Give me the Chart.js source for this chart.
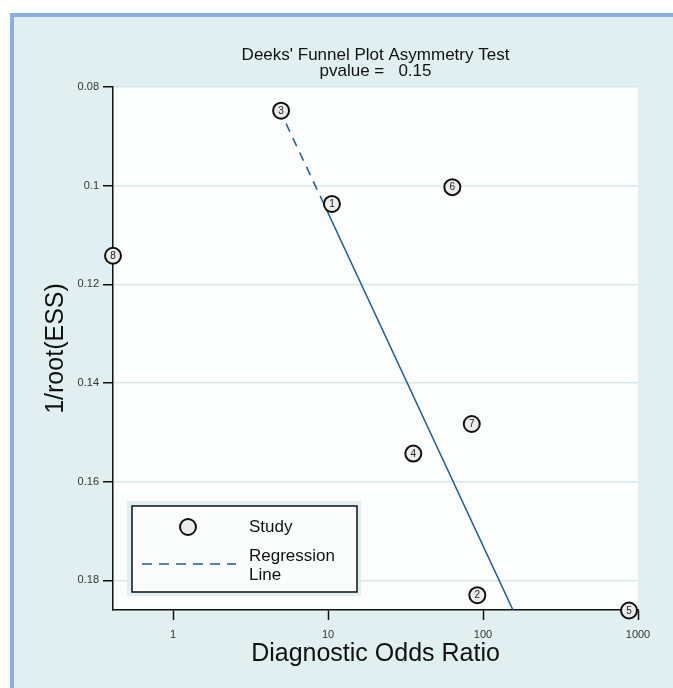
<!DOCTYPE html>
<html>
<head>
<meta charset="utf-8">
<script src="https://cdn.jsdelivr.net/npm/chart.js@4.4.1/dist/chart.umd.min.js"></script>
<style>
  body { margin: 0; background: #fff; }
  canvas { display: block; }
</style>
</head>
<body>
<canvas id="funnel" width="673" height="688"></canvas>
<script>
// study points
const studyLabels = ["1", "2", "3", "4", "5", "6", "7", "8"];
const studyDOR = [10.6, 91.9, 4.98, 35.5, 875, 63.4, 84.6, 0.41];
const studyESS = [0.1037, 0.1830, 0.0848, 0.1543, 0.1861, 0.1003, 0.1483, 0.1142];
// regression line (dashed on the first piece)
const lineDOR = [5.36, 9.15, 156];
const lineESS = [0.0874, 0.1029, 0.186];
// axes
const xTicks = [1, 10, 100, 1000];
const xTickLabels = ["1", "10", "100", "1000"];
const yTicks = [0.08, 0.10, 0.12, 0.14, 0.16, 0.18];
const yTickLabels = ["0.08", "0.1", "0.12", "0.14", "0.16", "0.18"];

const FONT = "'Liberation Sans', Arial, sans-serif";
const LINE_COLOR = '#1f5a8c';
Chart.defaults.font.family = FONT;

// page frame + white plot area
const backdrop = {
    id: 'backdrop',
    beforeDraw(chart) {
        const { ctx, chartArea: a } = chart;
        ctx.save();
        ctx.fillStyle = '#ffffff';
        ctx.fillRect(0, 0, chart.width, chart.height);
        ctx.fillStyle = '#88afe1';
        ctx.fillRect(10, 13, chart.width, chart.height);
        ctx.fillStyle = '#e1eff0';
        ctx.fillRect(14, 17, chart.width, chart.height);
        ctx.fillStyle = '#fcfdfd';
        ctx.fillRect(a.left, a.top, a.right - a.left, a.bottom - a.top);
        ctx.restore();
    }
};

// numbers inside the circles
const pointNumbers = {
    id: 'pointNumbers',
    afterDatasetsDraw(chart) {
        const { ctx } = chart;
        const meta = chart.getDatasetMeta(0);
        ctx.save();
        ctx.font = '10px ' + FONT;
        ctx.fillStyle = '#222';
        ctx.textAlign = 'center';
        ctx.textBaseline = 'middle';
        meta.data.forEach((el, i) => {
            ctx.fillText(studyLabels[i], el.x, el.y + 0.5);
        });
        ctx.restore();
    }
};

// stata style legend box
const boxLegend = {
    id: 'boxLegend',
    afterDraw(chart) {
        const { ctx } = chart;
        ctx.save();
        ctx.fillStyle = '#e1eff0';
        ctx.fillRect(127, 501, 234, 95);
        ctx.fillStyle = '#fbfcfc';
        ctx.fillRect(132, 506, 225, 86);
        ctx.strokeStyle = '#111';
        ctx.lineWidth = 1.5;
        ctx.strokeRect(132, 506, 225, 86);

        ctx.beginPath();
        ctx.arc(188, 527, 8, 0, Math.PI * 2);
        ctx.fillStyle = '#ececec';
        ctx.fill();
        ctx.lineWidth = 2;
        ctx.stroke();

        ctx.beginPath();
        ctx.setLineDash([10, 7]);
        ctx.strokeStyle = LINE_COLOR;
        ctx.lineWidth = 1.5;
        ctx.moveTo(142, 564);
        ctx.lineTo(236, 564);
        ctx.stroke();
        ctx.setLineDash([]);

        ctx.fillStyle = '#111';
        ctx.font = '17px ' + FONT;
        ctx.textBaseline = 'middle';
        ctx.fillText('Study', 249, 527);
        ctx.fillText('Regression', 249, 556);
        ctx.fillText('Line', 249, 575);
        ctx.restore();
    }
};

let chart1 = new Chart(document.getElementById('funnel'), {
    type: 'scatter',
    data: {
        datasets: [{
            label: 'Study',
            data: studyDOR.map((x, i) => ({ x: x, y: studyESS[i] })),
            pointRadius: 8,
            pointBorderWidth: 2,
            pointBorderColor: '#111',
            pointBackgroundColor: '#ececec',
            clip: false,
            order: 0
        }, {
            label: 'Regression Line',
            data: lineDOR.map((x, i) => ({ x: x, y: lineESS[i] })),
            showLine: true,
            pointRadius: 0,
            borderColor: LINE_COLOR,
            borderWidth: 1.5,
            segment: {
                borderDash: (ctx) => ctx.p0DataIndex === 0 ? [9, 7] : []
            },
            order: 1
        }]
    },
    options: {
        responsive: false,
        animation: false,
        devicePixelRatio: 1,
        layout: { padding: { left: 0, right: 35, top: 0, bottom: 0 } },
        plugins: {
            legend: { display: false },
            tooltip: { enabled: false },
            title: {
                display: true,
                fullSize: false,
                text: ["Deeks' Funnel Plot Asymmetry Test", "pvalue =   0.15"],
                color: '#111',
                font: { size: 17, weight: 'normal', lineHeight: 0.9 },
                padding: { top: 48, bottom: 8.4 }
            }
        },
        scales: {
            x: {
                type: 'logarithmic',
                position: 'bottom',
                min: 0.41,
                max: 1000,
                afterBuildTicks: (scale) => { scale.ticks = xTicks.map(v => ({ value: v, major: true })); },
                afterFit: (scale) => { scale.height = 78; },
                ticks: {
                    autoSkip: false,
                    maxRotation: 0,
                    padding: 8,
                    color: '#333',
                    font: { size: 11 },
                    callback: (v, i) => xTickLabels[i]
                },
                grid: { drawOnChartArea: false, tickLength: 10, tickColor: '#111', tickWidth: 1.5 },
                border: { color: '#111', width: 1.5 },
                title: {
                    display: true,
                    text: 'Diagnostic Odds Ratio',
                    color: '#111',
                    font: { size: 25, lineHeight: 1.2 },
                    padding: { top: 0, bottom: 19 }
                }
            },
            y: {
                type: 'linear',
                position: 'left',
                reverse: true,
                min: 0.08,
                max: 0.186,
                afterBuildTicks: (scale) => { scale.ticks = yTicks.map(v => ({ value: v })); },
                afterFit: (scale) => { scale.width = 113; },
                ticks: {
                    autoSkip: false,
                    padding: 4,
                    color: '#333',
                    font: { size: 11 },
                    callback: (v, i) => yTickLabels[i]
                },
                grid: { color: '#d5e8ea', lineWidth: 1.5, tickLength: 10, tickColor: '#111', tickWidth: 1.5 },
                border: { color: '#111', width: 1.5 },
                title: {
                    display: true,
                    text: '1/root(ESS)',
                    color: '#111',
                    font: { size: 25, lineHeight: 1.2 },
                    padding: { top: 41, bottom: 0 }
                }
            }
        }
    },
    plugins: [backdrop, pointNumbers, boxLegend]
});
</script>
</body>
</html>
